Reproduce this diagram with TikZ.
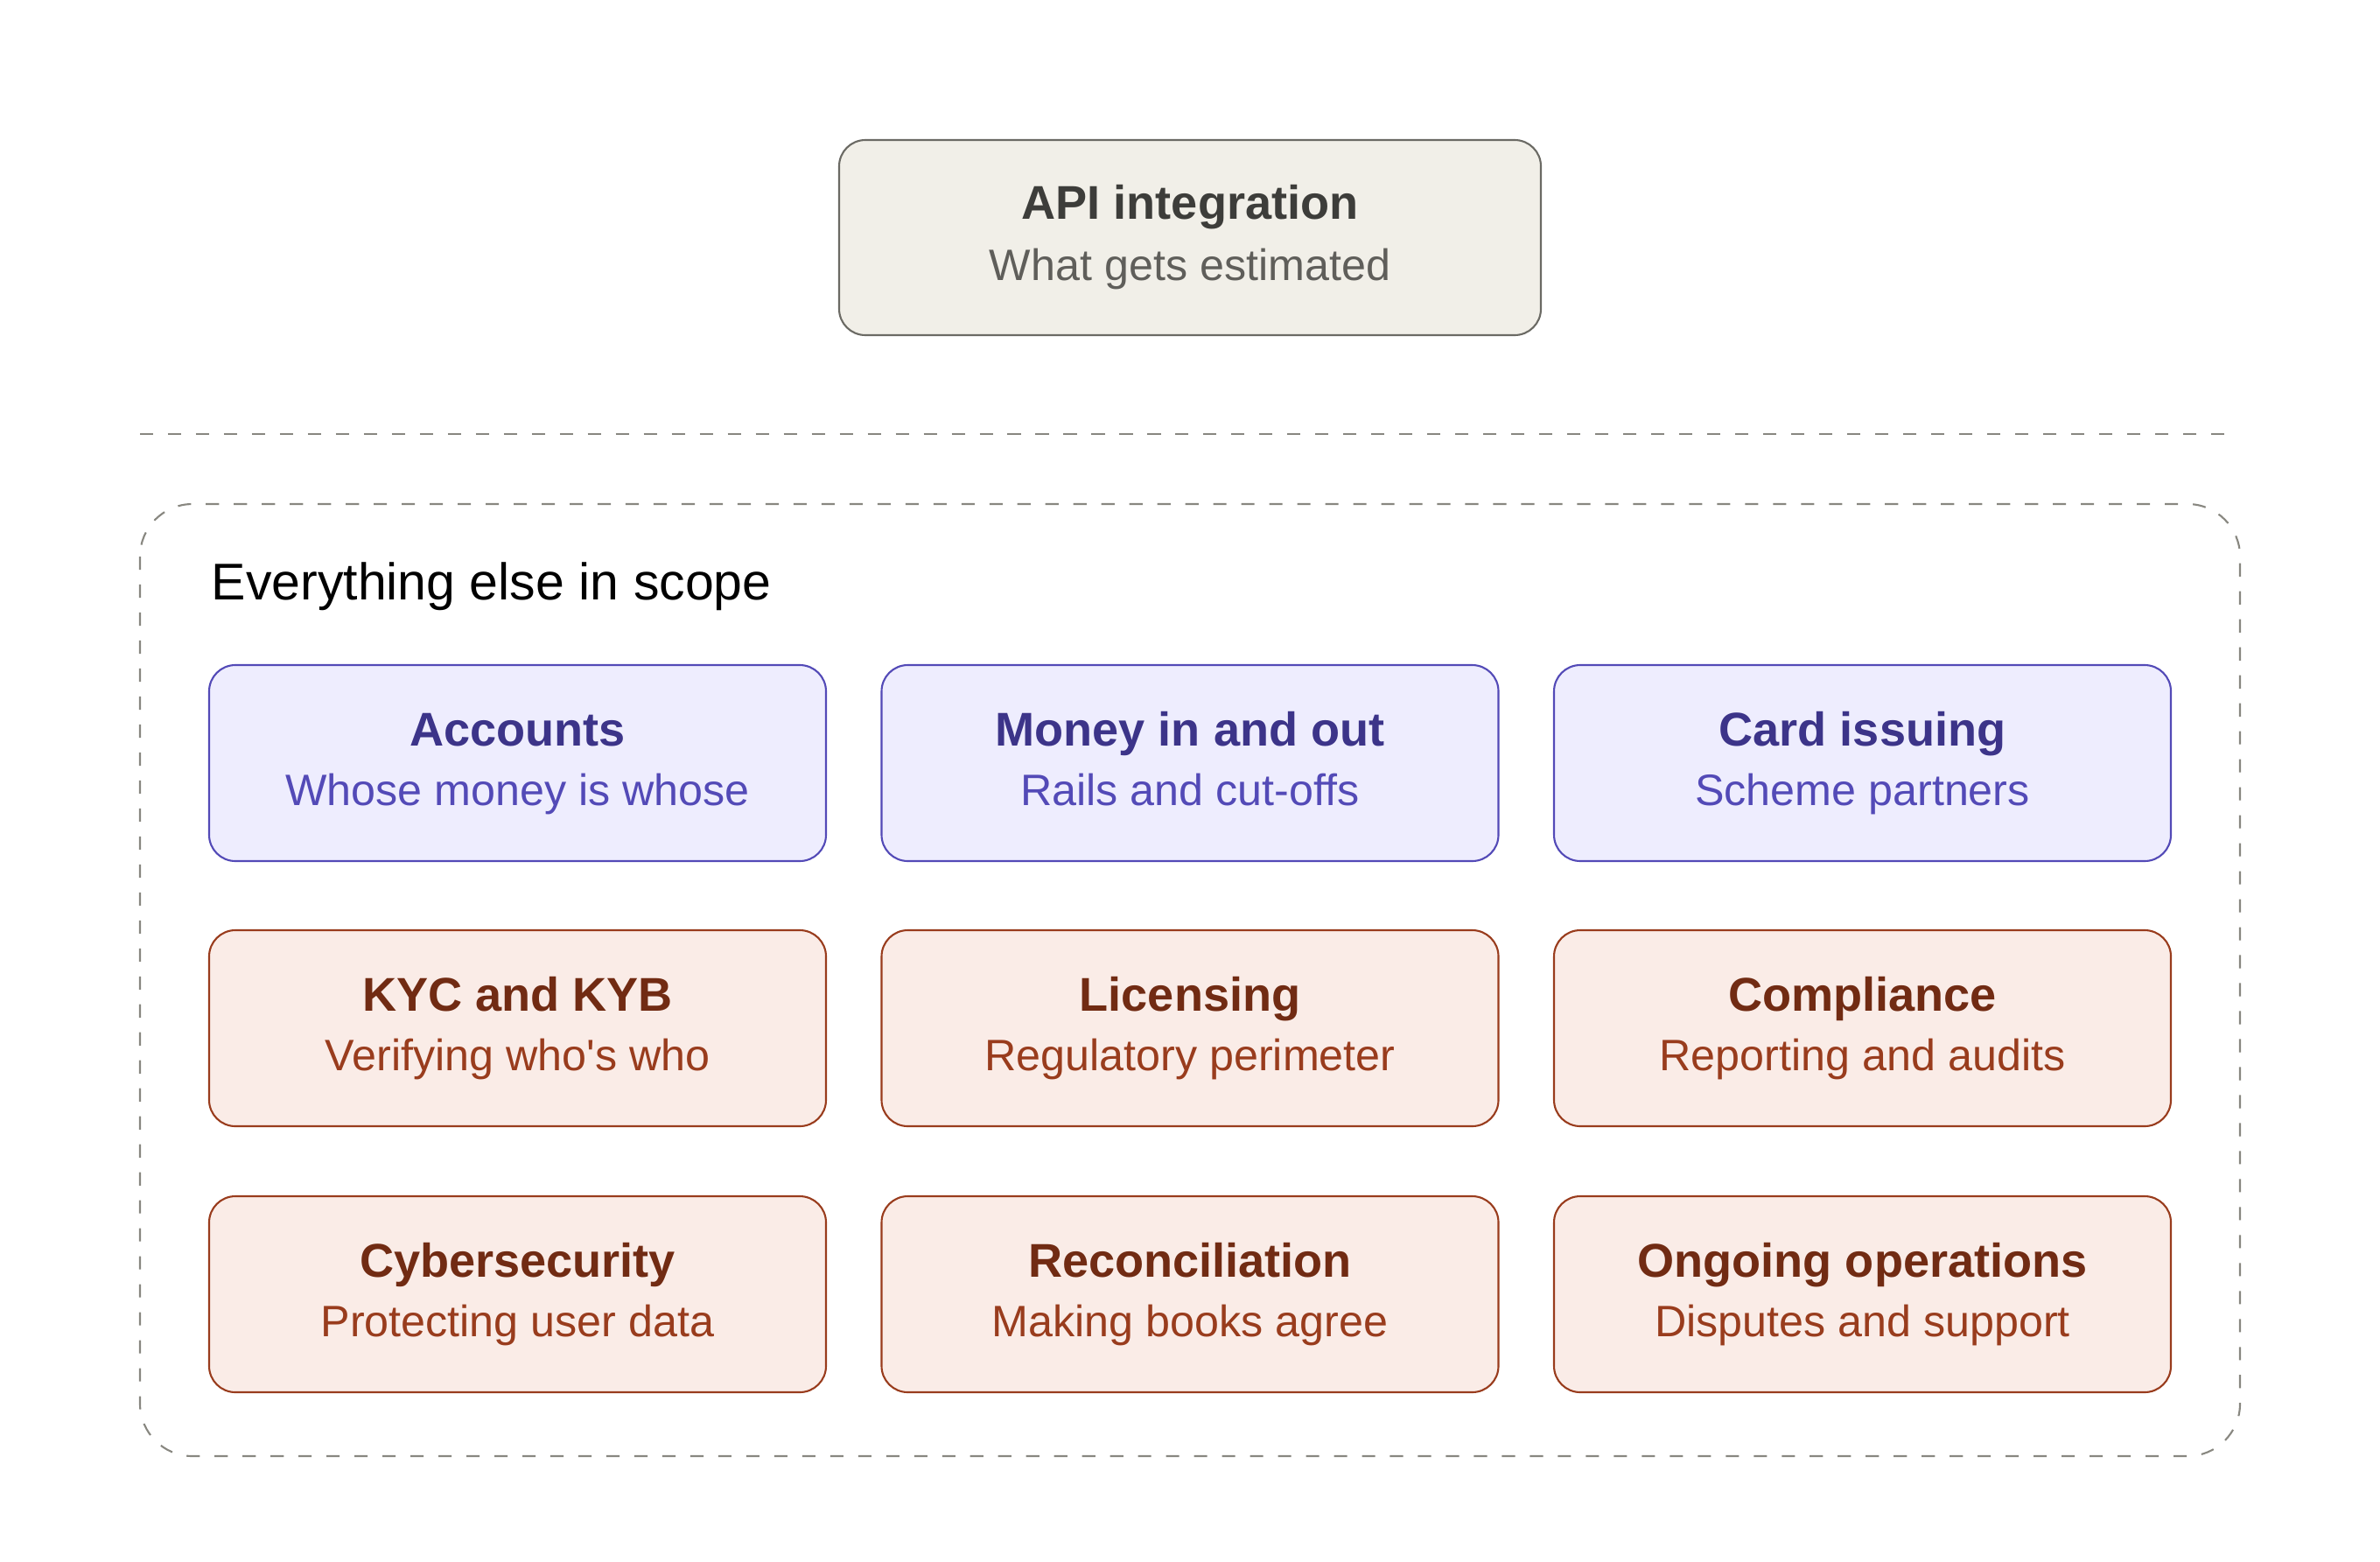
\documentclass[tikz,border=0pt]{standalone}
\usepackage{fontspec}
\setmainfont{Liberation Sans}
\usetikzlibrary{positioning}

\definecolor{stoneFill}{HTML}{F1EFE8}
\definecolor{stoneLine}{HTML}{6B6A64}
\definecolor{stoneHead}{HTML}{3D3D3A}
\definecolor{stoneText}{HTML}{5F5E5A}
\definecolor{blueFill}{HTML}{EEEDFE}
\definecolor{blueLine}{HTML}{534AB7}
\definecolor{blueHead}{HTML}{3C3489}
\definecolor{redFill}{HTML}{FAECE7}
\definecolor{redLine}{HTML}{993C1D}
\definecolor{redHead}{HTML}{712B13}
\definecolor{dashGray}{HTML}{888780}

% title line and subtitle line of a card, with fixed struts
\newcommand{\cardtext}[2]{{\fontsize{15.4}{19.2}\selectfont\bfseries\rule{0pt}{0.5cm}#1}\\{\rule[-0.215cm]{0pt}{0pt}#2}}

\begin{document}
\begin{tikzpicture}[
  card/.style={draw, rectangle, rounded corners=0.3cm, line width=0.6pt,
               minimum width=7.05cm, minimum height=2.24cm, align=center,
               inner sep=0pt, font=\fontsize{14.3}{19.2}\selectfont},
  bluecard/.style={card, fill=blueFill, draw=blueLine, text=blueLine},
  redcard/.style={card, fill=redFill, draw=redLine, text=redLine},
  apicard/.style={card, fill=stoneFill, draw=stoneLine, text=stoneText,
                  minimum width=8.02cm, minimum height=2.23cm,
                  font=\fontsize{14.3}{20.0}\selectfont},
  sep/.style={dashGray, line width=0.6pt, dash pattern=on 4.3pt off 4.8pt},
]
  \useasboundingbox (0,0) rectangle (27.2,-17.84);

  \def\xA{5.915}   % left column
  \def\xB{13.60}   % middle column
  \def\xC{21.285}  % right column
  \def\yA{-8.72}   % first row
  \def\yB{-11.75}  % second row
  \def\yC{-14.79}  % third row

  % --- What gets estimated ---
  \node[apicard] (api) at (13.60,-2.715)
    {\cardtext{\textcolor{stoneHead}{API integration}}{What gets estimated}};

  % --- Divider ---
  \coordinate (divL) at (1.60,-4.96);
  \coordinate (divR) at (25.47,-4.96);
  \draw[sep] (divL) -- (divR);

  % --- Scope outline ---
  \draw[sep, rounded corners=0.6cm] (1.60,-5.76) rectangle (25.60,-16.64);
  \node[anchor=base west, inner sep=0pt, font=\fontsize{16.8}{20}\selectfont]
    (scope) at (2.41,-6.85) {Everything else in scope};

  % --- Row 1 ---
  \node[bluecard] (accounts) at (\xA,\yA)
    {\cardtext{\textcolor{blueHead}{Accounts}}{Whose money is whose}};
  \node[bluecard] (money) at (\xB,\yA)
    {\cardtext{\textcolor{blueHead}{Money in and out}}{Rails and cut-offs}};
  \node[bluecard] (cards) at (\xC,\yA)
    {\cardtext{\textcolor{blueHead}{Card issuing}}{Scheme partners}};

  % --- Row 2 ---
  \node[redcard] (kyc) at (\xA,\yB)
    {\cardtext{\textcolor{redHead}{KYC and KYB}}{Verifying who\textquotesingle s who}};
  \node[redcard] (licensing) at (\xB,\yB)
    {\cardtext{\textcolor{redHead}{Licensing}}{Regulatory perimeter}};
  \node[redcard] (compliance) at (\xC,\yB)
    {\cardtext{\textcolor{redHead}{Compliance}}{Reporting and audits}};

  % --- Row 3 ---
  \node[redcard] (cyber) at (\xA,\yC)
    {\cardtext{\textcolor{redHead}{Cybersecurity}}{Protecting user data}};
  \node[redcard] (recon) at (\xB,\yC)
    {\cardtext{\textcolor{redHead}{Reconciliation}}{Making books agree}};
  \node[redcard] (ops) at (\xC,\yC)
    {\cardtext{\textcolor{redHead}{Ongoing operations}}{Disputes and support}};

\end{tikzpicture}
\end{document}
